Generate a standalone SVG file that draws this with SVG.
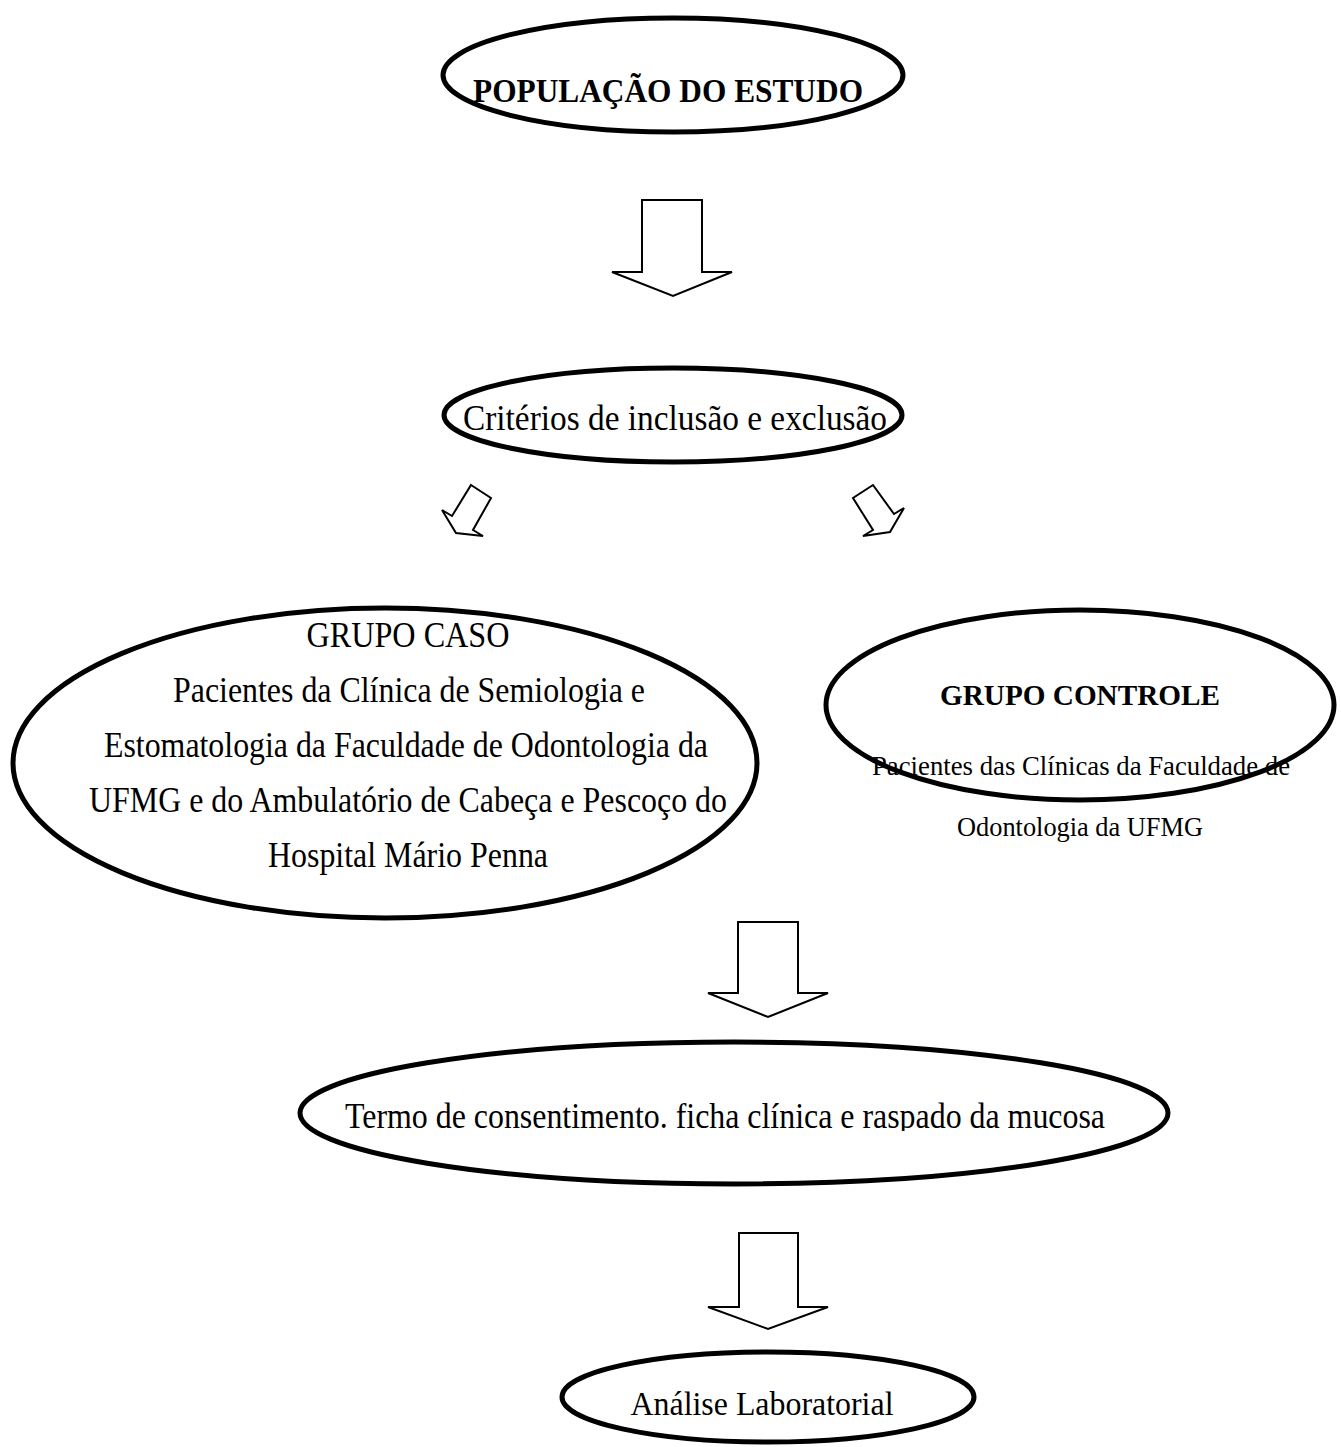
<svg xmlns="http://www.w3.org/2000/svg" width="1341" height="1447" viewBox="0 0 1341 1447">
<style>
.el{fill:none;stroke:#000;stroke-width:5}
.ar{fill:#fff;stroke:#000;stroke-width:2;stroke-linejoin:miter}
.t{font-family:"Liberation Serif","Times New Roman",serif;fill:#000;text-anchor:middle}
.b{font-weight:bold}
</style>
<defs>
<clipPath id="clipTermo"><rect x="0" y="1000" width="1341" height="131"/></clipPath>
</defs>
<rect width="1341" height="1447" fill="#fff"/>
<g id="connectors">
<polygon class="ar" points="642,200 702,200 702,272 732,272 673,296 612,272 642,272"/>
<polygon class="ar" points="471,485 491,498 473,530 483,536 456,533 442,510 452,516"/>
<polygon class="ar" points="873,485 853,498 873,530 863,536 890,532 904,508 894,514"/>
<polygon class="ar" points="738,922 798,922 798,993 828,993 768,1017 708,993 738,993"/>
<polygon class="ar" points="739,1233 798,1233 798,1307 828,1307 768,1329 708,1307 739,1307"/>
</g>
<g id="populacao">
<ellipse class="el" cx="673" cy="75" rx="230" ry="57"/>
<text class="t b" x="668" y="102" font-size="34" textLength="390" lengthAdjust="spacingAndGlyphs">POPULAÇÃO DO ESTUDO</text>
</g>
<g id="criterios">
<ellipse class="el" cx="673" cy="415" rx="229" ry="47"/>
<text class="t" x="675" y="430" font-size="35" textLength="424" lengthAdjust="spacingAndGlyphs">Critérios de inclusão e exclusão</text>
</g>
<g id="grupo-caso">
<ellipse class="el" cx="385" cy="763" rx="372" ry="155"/>
<text class="t" x="408" y="647" font-size="35" textLength="203" lengthAdjust="spacingAndGlyphs">GRUPO CASO</text>
<text class="t" x="409" y="702" font-size="35" textLength="472" lengthAdjust="spacingAndGlyphs">Pacientes da Clínica de Semiologia e</text>
<text class="t" x="406" y="757" font-size="35" textLength="604" lengthAdjust="spacingAndGlyphs">Estomatologia da Faculdade de Odontologia da</text>
<text class="t" x="408" y="812" font-size="35" textLength="638" lengthAdjust="spacingAndGlyphs">UFMG e do Ambulatório de Cabeça e Pescoço do</text>
<text class="t" x="408" y="867" font-size="35" textLength="280" lengthAdjust="spacingAndGlyphs">Hospital Mário Penna</text>
</g>
<g id="grupo-controle">
<text class="t b" x="1080" y="705" font-size="30" textLength="280" lengthAdjust="spacingAndGlyphs">GRUPO CONTROLE</text>
<text class="t" x="1081" y="775" font-size="28" textLength="418" lengthAdjust="spacingAndGlyphs">Pacientes das Clínicas da Faculdade de</text>
<text class="t" x="1080" y="836" font-size="28" textLength="246" lengthAdjust="spacingAndGlyphs">Odontologia da UFMG</text>
<ellipse class="el" cx="1080" cy="705" rx="254" ry="95"/>
</g>
<g id="termo">
<ellipse class="el" cx="734" cy="1113" rx="434" ry="71"/>
<text class="t" x="725" y="1128" font-size="35" textLength="760" lengthAdjust="spacingAndGlyphs" clip-path="url(#clipTermo)">Termo de consentimento. ficha clínica e raspado da mucosa</text>
</g>
<g id="analise">
<ellipse class="el" cx="768" cy="1397" rx="206" ry="45"/>
<text class="t" x="762" y="1415" font-size="34" textLength="263" lengthAdjust="spacingAndGlyphs">Análise Laboratorial</text>
</g>
</svg>
